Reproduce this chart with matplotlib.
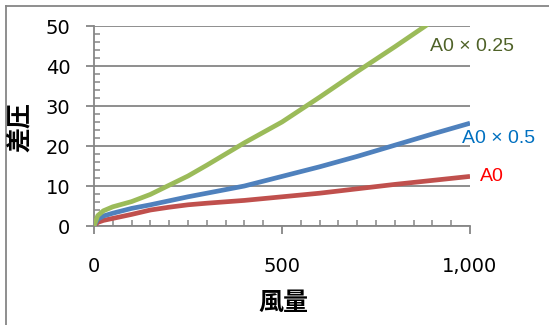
import matplotlib
matplotlib.use("Agg")
import matplotlib.pyplot as plt
import matplotlib.ticker as mticker
from matplotlib.lines import Line2D

# données
flow = [0, 10, 25, 50, 100, 150, 200, 250, 300, 400, 500, 600, 700, 800, 900, 1000]
dp_a0 = [0, 0.9, 1.4, 1.9, 2.9, 4.0, 4.7, 5.3, 5.7, 6.4, 7.3, 8.2, 9.3, 10.4, 11.4, 12.4]
dp_a0_05 = [0, 1.7, 2.5, 3.2, 4.4, 5.3, 6.3, 7.3, 8.2, 10.0, 12.4, 14.8, 17.4, 20.2, 23.0, 25.7]
dp_a0_025 = [0, 2.6, 3.8, 4.8, 6.1, 7.9, 10.2, 12.5, 15.2, 20.8, 26.0, 32.2, 38.6, 44.8, 51.2, 57.5]

labels = ["A0", "A0 × 0.5", "A0 × 0.25"]
line_colors = ["#C0504D", "#4F81BD", "#9BBB59"]
text_colors = ["#FF0000", "#0070C0", "#4F6228"]
label_pos = [(1027, 12.4), (979, 21.9), (894, 45.0)]

plt.rcParams["font.family"] = ["DejaVu Sans", "Noto Sans CJK JP"]
grey = "#868686"

fig = plt.figure(figsize=(5.49, 3.25), dpi=100)
ax = fig.add_axes([0.1712, 0.3046, 0.6849, 0.6154])

for ys, c in zip([dp_a0, dp_a0_05, dp_a0_025], line_colors):
    ax.plot(flow, ys, color=c, linewidth=3.4, solid_capstyle="butt",
            solid_joinstyle="round", zorder=3)

for lab, (x, y), c in zip(labels, label_pos, text_colors):
    ax.text(x, y, lab, color=c, fontsize=14, va="center", ha="left",
            family=["Liberation Sans", "DejaVu Sans"], clip_on=False)

ax.set_xlim(0, 1000)
ax.set_ylim(0, 50)
ax.xaxis.set_major_locator(mticker.MultipleLocator(500))
ax.xaxis.set_minor_locator(mticker.MultipleLocator(50))
ax.yaxis.set_major_locator(mticker.MultipleLocator(10))
ax.yaxis.set_minor_locator(mticker.MultipleLocator(2))
ax.xaxis.set_major_formatter(mticker.FuncFormatter(lambda v, _: f"{v:,.0f}"))

ax.grid(True, axis="y", which="major", color=grey, linewidth=1.3)
ax.set_axisbelow(True)

ax.tick_params(axis="both", which="major", direction="out", length=6, width=1.3,
               color=grey, labelsize=14)
ax.tick_params(axis="both", which="minor", direction="in", length=4, width=1.1, color=grey)
ax.tick_params(axis="x", which="major", pad=16)
ax.tick_params(axis="y", which="major", pad=11)

for s in ["top", "right"]:
    ax.spines[s].set_visible(False)
for s in ["left", "bottom"]:
    ax.spines[s].set_color(grey)
    ax.spines[s].set_linewidth(1.3)

fig.text(283 / 549, 1 - 303 / 325, "風量", fontsize=18, fontweight="bold",
         ha="center", va="center", family=["Noto Sans CJK JP"])
fig.text(20 / 549, 1 - 127 / 325, "差圧", fontsize=18, fontweight="bold", rotation=90,
         ha="center", va="center", family=["Noto Sans CJK JP"])

# bordure de la zone graphique
fig.add_artist(Line2D([5.5 / 549, 5.5 / 549], [0, 1 - 6 / 325], color=grey, linewidth=1.3,
                      transform=fig.transFigure))
fig.add_artist(Line2D([5.5 / 549, 1], [1 - 6 / 325, 1 - 6 / 325], color=grey, linewidth=1.3,
                      transform=fig.transFigure))

fig.savefig("out.png", dpi=100)
plt.close(fig)
